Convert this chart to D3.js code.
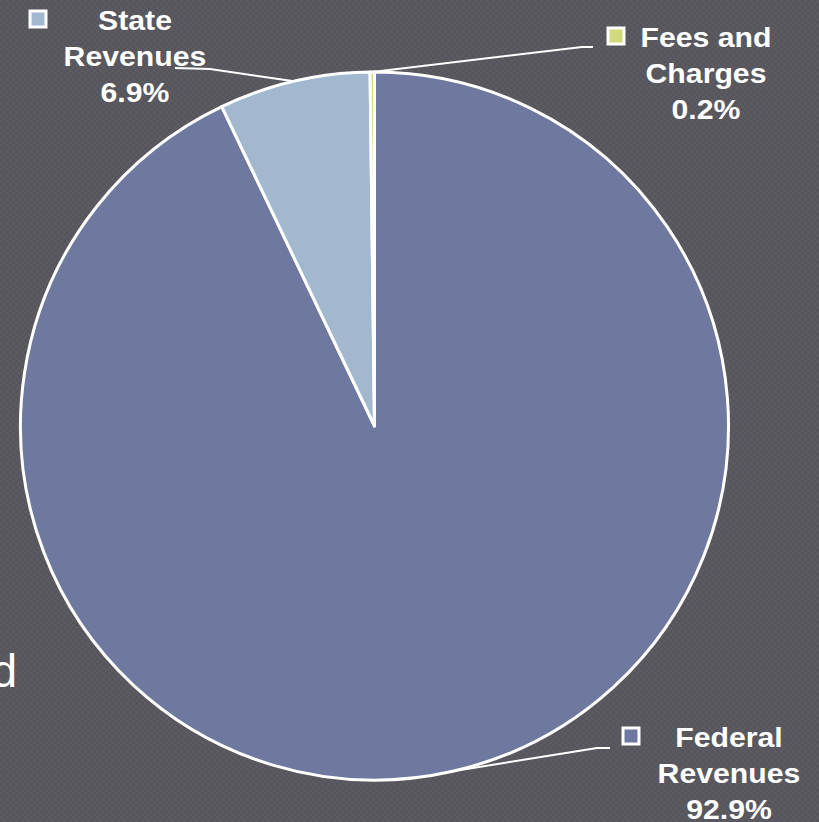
<!DOCTYPE html>
<html>
<head>
<meta charset="utf-8">
<script src="https://cdn.jsdelivr.net/npm/d3@7"></script>
<style>
  html, body { margin: 0; padding: 0; background: #56565c; overflow: hidden; }
  svg { display: block; }
</style>
</head>
<body>
<div class="container"></div>
<script>
'use strict';

// Revenue sources and their shares (percent)
const categories = ["Federal Revenues", "State Revenues", "Fees and Charges"];
const shares = [92.9, 6.9, 0.2];
const labelLines = [["Federal", "Revenues", "92.9%"], ["State", "Revenues", "6.9%"], ["Fees and", "Charges", "0.2%"]];
const colors = ["#6f799f", "#a1b8cf", "#d1d97c"];

const width = 819;
const height = 822;

const svg = d3.select("div.container").append("svg")
    .attr("width", width)
    .attr("height", height);

// subtle checkered background texture
const defs = svg.append("defs");
const pat = defs.append("pattern")
    .attr("id", "bg")
    .attr("width", 6).attr("height", 6)
    .attr("patternUnits", "userSpaceOnUse");
pat.append("rect").attr("width", 6).attr("height", 6).attr("fill", "#55555b");
pat.append("rect").attr("width", 3).attr("height", 3).attr("fill", "#5b5b61");
pat.append("rect").attr("x", 3).attr("y", 3).attr("width", 3).attr("height", 3).attr("fill", "#5b5b61");

svg.append("rect").attr("width", width).attr("height", height).attr("fill", "url(#bg)");

// leftover text from the slide behind the chart
svg.append("text")
    .attr("x", 17).attr("y", 687)
    .attr("text-anchor", "end")
    .style("font-family", "Liberation Sans, Arial, sans-serif")
    .style("font-size", "46px")
    .attr("fill", "#ffffff")
    .text("d");

const cx = 374.5, cy = 426, radius = 354;

const pie = d3.pie().sort(null).value(d => d.value);
const arc = d3.arc().innerRadius(0).outerRadius(radius);

const data = categories.map((c, i) => ({name: c, value: shares[i], color: colors[i], lines: labelLines[i]}));
const arcs = pie(data);

const g = svg.append("g").attr("transform", `translate(${cx},${cy})`);

g.selectAll("path")
    .data(arcs)
    .enter()
    .append("path")
    .attr("d", arc)
    .attr("fill", d => d.data.color)
    .attr("stroke", "#ffffff")
    .attr("stroke-width", 3)
    .attr("stroke-linejoin", "round");

// label anchors (centre of text block, first baseline) and leader line bends
const labelLayout = [
  {x: 729, y: 747, box: [631, 736], bend: [[597, 748], [610, 748]]},
  {x: 135, y: 30, box: [38, 19], bend: [[210, 69], [175, 68]]},
  {x: 706, y: 47, box: [616, 36], bend: [[582, 47], [593, 47]]}
];

const lineGap = 36;

arcs.forEach((a, i) => {
  const lay = labelLayout[i];
  const mid = (a.startAngle + a.endAngle) / 2;
  const sx = cx + Math.sin(mid) * radius;
  const sy = cy - Math.cos(mid) * radius;

  svg.append("polyline")
      .attr("points", [[sx, sy]].concat(lay.bend).map(p => p.join(",")).join(" "))
      .attr("fill", "none")
      .attr("stroke", "#ffffff")
      .attr("stroke-width", 2);

  svg.append("rect")
      .attr("x", lay.box[0] - 8).attr("y", lay.box[1] - 8)
      .attr("width", 16).attr("height", 16)
      .attr("fill", a.data.color)
      .attr("stroke", "#ffffff")
      .attr("stroke-width", 3);

  a.data.lines.forEach((t, j) => {
    svg.append("text")
        .attr("transform", `translate(${lay.x},${lay.y + j * lineGap}) scale(1.12,1)`)
        .attr("text-anchor", "middle")
        .style("font-family", "Liberation Sans, Arial, sans-serif")
        .style("font-size", "27px")
        .style("font-weight", "bold")
        .attr("fill", "#ffffff")
        .text(t);
  });
});
</script>
</body>
</html>
